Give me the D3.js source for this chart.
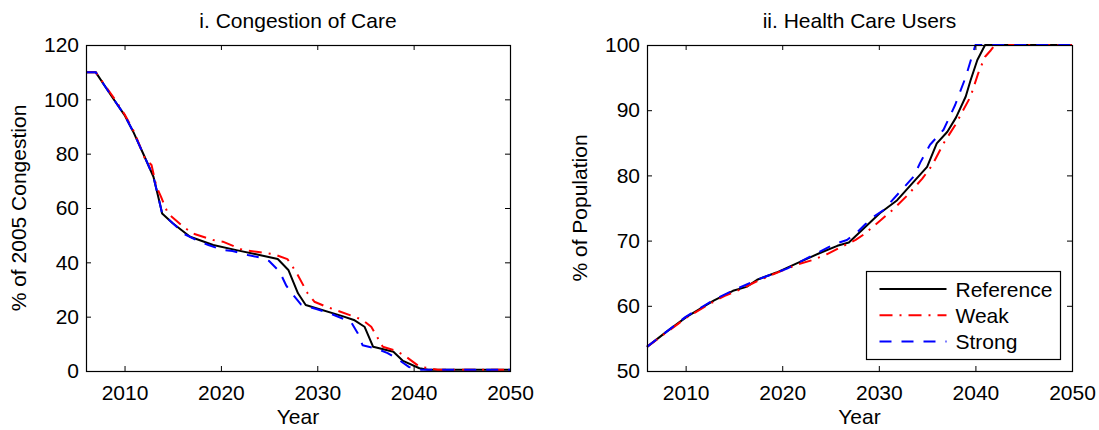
<!DOCTYPE html>
<html>
<head>
<meta charset="utf-8">
<script src="https://cdn.jsdelivr.net/npm/d3@7"></script>
<style>
  html, body { margin: 0; padding: 0; background: #fff; }
  svg text { font-family: "Liberation Sans", Arial, Helvetica, sans-serif; fill: #000; }
</style>
</head>
<body>
<svg id="fig" width="1099" height="430"></svg>
<script>
// Panel i: congestion of care (% of 2005 level)
const congRefYears   = [2006, 2007, 2008.8, 2010, 2010.9, 2012, 2013, 2013.7, 2013.9, 2015, 2016.8, 2019.2, 2021.6, 2024, 2025.9, 2027, 2028, 2028.8, 2032.6, 2033.8, 2034.9, 2035.8, 2037.9, 2038.9, 2040.6, 2041.5, 2050];
const congRefValues  = [110, 110, 100.4, 94.2, 88.1, 79.5, 71.5, 61.1, 58.0, 54.4, 49.4, 46.4, 44.5, 42.7, 41.2, 37.2, 28.6, 24.3, 20.2, 18.8, 16.3, 8.9, 7.1, 3.7, 1.0, 0.5, 0.5];

const congWeakYears  = [2006, 2007, 2009, 2010, 2011, 2012.1, 2012.8, 2013.3, 2013.8, 2014.5, 2016.1, 2017.1, 2019.2, 2020.2, 2022.3, 2023.7, 2025.5, 2026.9, 2027.8, 2029, 2029.7, 2030.9, 2033.7, 2034.7, 2035.6, 2036.8, 2038.2, 2039.2, 2040.6, 2041.6, 2042.5, 2050];
const congWeakValues = [110, 110, 100, 94.5, 88, 78.3, 75.8, 68, 64, 58.0, 53.1, 50.6, 48.2, 47.6, 44.5, 43.9, 43.0, 41.2, 36.5, 28.6, 25.5, 23.7, 20.2, 18.8, 16.3, 8.9, 7.4, 5.3, 1.6, 1.0, 0.5, 0.5];

const congStrongYears  = [2006, 2007, 2008.8, 2010, 2010.9, 2012, 2013, 2013.7, 2013.9, 2015.4, 2016.1, 2017.8, 2018.7, 2020.2, 2021.2, 2022.8, 2024, 2025, 2026.1, 2026.8, 2027.5, 2028.3, 2029.9, 2031.1, 2032.3, 2033.5, 2034.2, 2034.7, 2036.1, 2037.3, 2038.5, 2039.5, 2040.5, 2050];
const congStrongValues = [110, 110, 100.4, 94.2, 88.1, 79.5, 71.5, 61.1, 58.0, 53.1, 50.6, 47.6, 46.4, 44.5, 44.2, 42.7, 41.8, 40.5, 36.5, 31.3, 28.0, 24.5, 22.8, 21.5, 19.8, 18.1, 13.9, 9.5, 8.3, 6.6, 4.0, 1.5, 0.5, 0.5];

// Panel ii: health care users (% of population)
const usersRefYears   = [2006, 2008, 2010.1, 2012.9, 2014.9, 2016.3, 2017.4, 2019.4, 2021.5, 2023.9, 2025.7, 2026.9, 2028.1, 2030.1, 2031.9, 2033.6, 2035, 2036, 2037.1, 2038, 2039, 2039.5, 2040.2, 2041, 2050];
const usersRefValues  = [53.7, 56.0, 58.3, 60.8, 62.3, 62.9, 64.0, 65.1, 66.5, 68.1, 69.2, 69.7, 71.4, 74.2, 76.2, 79.0, 81.3, 84.9, 86.7, 88.9, 92.1, 94.6, 97.7, 100, 100];

const usersWeakYears  = [2006, 2008, 2010, 2012.5, 2014, 2015.5, 2017, 2019, 2021.5, 2023.1, 2024.6, 2025.8, 2027.6, 2028.5, 2030.1, 2031.5, 2033, 2034.5, 2035.5, 2036.7, 2037.9, 2039.5, 2040.3, 2041, 2041.6, 2042, 2050];
const usersWeakValues = [53.7, 55.9, 58.1, 60.3, 61.5, 62.4, 63.5, 64.8, 66.3, 67.0, 67.9, 68.8, 70.1, 71.0, 73.0, 74.8, 77.0, 79.5, 81.5, 84.9, 87.7, 92.1, 95.7, 98.2, 99.2, 100, 100];

const usersStrongYears  = [2006, 2008, 2010, 2013, 2015, 2017.4, 2020.5, 2023.5, 2025.3, 2026.7, 2027.7, 2028.6, 2029.6, 2030.5, 2032.5, 2033.6, 2034.3, 2035.3, 2036.7, 2037.9, 2039, 2040, 2050];
const usersStrongValues = [53.7, 56.0, 58.3, 61.0, 62.4, 64.0, 65.7, 68.0, 69.4, 70.1, 71.2, 72.5, 73.8, 74.7, 78.0, 79.8, 82.0, 84.7, 87.0, 90.8, 95.1, 100, 100];

const xTickYears = [2010, 2020, 2030, 2040, 2050];
const congTicks  = [0, 20, 40, 60, 80, 100, 120];
const usersTicks = [50, 60, 70, 80, 90, 100];

const seriesNames = ["Reference", "Weak", "Strong"];
const seriesColors = ["#000000", "#ff0000", "#0000ff"];
const seriesDash = [null, "13,7,2,7", "12,10"];

const svg = d3.select("#fig");
const FONT = 21;

function zip(xs, ys) { return xs.map((x, i) => ({ x, y: ys[i] })); }

function drawPanel(opts) {
  const { left, right, top, bottom, yDomain, yTicks, title, yLabel, series } = opts;
  const x = d3.scaleLinear().domain([2006, 2050]).range([left, right]);
  const y = d3.scaleLinear().domain(yDomain).range([bottom, top]);
  const g = svg.append("g");

  // data lines
  const line = d3.line().x(d => x(d.x)).y(d => y(d.y));
  series.forEach((s, i) => {
    g.append("path")
      .datum(s)
      .attr("d", line)
      .attr("fill", "none")
      .attr("stroke", seriesColors[i])
      .attr("stroke-width", 2)
      .attr("stroke-linejoin", "round")
      .attr("stroke-dasharray", seriesDash[i]);
  });

  // axes with inward ticks on all four sides
  const tl = 5;
  g.append("g").attr("transform", `translate(0,${bottom})`)
    .call(d3.axisBottom(x).tickValues(xTickYears).tickFormat(d3.format("d")).tickSizeInner(-tl).tickSizeOuter(0).tickPadding(14));
  g.append("g").attr("transform", `translate(0,${top})`)
    .call(d3.axisTop(x).tickValues(xTickYears).tickFormat("").tickSizeInner(-tl).tickSizeOuter(0));
  g.append("g").attr("transform", `translate(${left},0)`)
    .call(d3.axisLeft(y).tickValues(yTicks).tickFormat(d3.format("d")).tickSizeInner(-tl).tickSizeOuter(0).tickPadding(7));
  g.append("g").attr("transform", `translate(${right},0)`)
    .call(d3.axisRight(y).tickValues(yTicks).tickFormat("").tickSizeInner(-tl).tickSizeOuter(0));
  g.selectAll(".domain").remove();
  g.selectAll(".tick line").attr("stroke", "#000").attr("stroke-width", 1);
  g.selectAll(".tick text").attr("font-size", FONT).attr("font-family", "Liberation Sans, Arial, sans-serif").attr("fill", "#000");

  // frame
  g.append("rect")
    .attr("x", left + 0.5).attr("y", top + 0.5)
    .attr("width", right - left).attr("height", bottom - top)
    .attr("fill", "none").attr("stroke", "#000").attr("stroke-width", 1.2);

  // labels
  g.append("text").attr("x", (left + right) / 2).attr("y", 28)
    .attr("text-anchor", "middle").attr("font-size", FONT).text(title);
  g.append("text").attr("x", (left + right) / 2).attr("y", 424)
    .attr("text-anchor", "middle").attr("font-size", FONT).text("Year");
  g.append("text")
    .attr("transform", `translate(${left - 60},${(top + bottom) / 2}) rotate(-90)`)
    .attr("text-anchor", "middle").attr("font-size", FONT).text(yLabel);
  return { x, y, g };
}

drawPanel({
  left: 86, right: 510, top: 45, bottom: 371,
  yDomain: [0, 120], yTicks: congTicks,
  title: "i. Congestion of Care", yLabel: "% of 2005 Congestion",
  series: [zip(congRefYears, congRefValues), zip(congWeakYears, congWeakValues), zip(congStrongYears, congStrongValues)]
});

const p2 = drawPanel({
  left: 647, right: 1072, top: 45, bottom: 371,
  yDomain: [50, 100], yTicks: usersTicks,
  title: "ii. Health Care Users", yLabel: "% of Population",
  series: [zip(usersRefYears, usersRefValues), zip(usersWeakYears, usersWeakValues), zip(usersStrongYears, usersStrongValues)]
});

// legend
const lg = svg.append("g").attr("transform", "translate(866.5,271.5)");
lg.append("rect").attr("width", 194).attr("height", 88)
  .attr("fill", "#fff").attr("stroke", "#000").attr("stroke-width", 1.2);
seriesNames.forEach((name, i) => {
  const yy = 17.5 + i * 26.3;
  lg.append("line").attr("x1", 13).attr("x2", 80).attr("y1", yy).attr("y2", yy)
    .attr("stroke", seriesColors[i]).attr("stroke-width", 2)
    .attr("stroke-dasharray", seriesDash[i]);
  lg.append("text").attr("x", 89).attr("y", yy + 7.5)
    .attr("font-size", FONT).text(name);
});
</script>
</body>
</html>
